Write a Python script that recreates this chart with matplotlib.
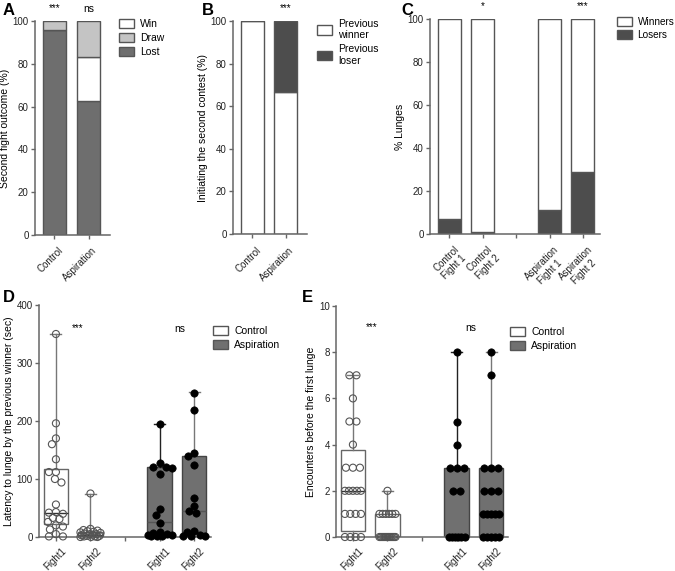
import matplotlib
matplotlib.use('Agg')
import matplotlib.pyplot as plt
import matplotlib.transforms as mtransforms
from matplotlib.patches import Patch
import numpy as np

plt.rcParams['font.family'] = ['Liberation Sans', 'DejaVu Sans']
plt.rcParams['font.size'] = 7

# ---------------- data ----------------
# A: second fight outcome (%)
ab_groups = ['Control', 'Aspiration']
a_lost = [96, 62.5]
a_win = [0, 20.8]
a_draw = [4, 16.7]
a_sig = ['***', 'ns']

# B: who initiates the second contest (%)
b_winner = [100, 66.7]
b_loser = [0, 33.3]
b_sig = ['', '***']

# C: % lunges
c_labels = ['Control\nFight 1', 'Control\nFight 2', '', 'Aspiration\nFight 1', 'Aspiration\nFight 2']
c_losers = [7, 1, 11, 29]
c_winners = [93, 99, 89, 71]
c_sig = ['', '*', '', '***']

# D: latency to lunge (sec)
de_labels = ['Fight1', 'Fight2', '', 'Fight1', 'Fight2']
d_ctrl_f1 = [350, 196, 170, 160, 134, 112, 112, 100, 94, 56, 43, 42, 40, 33, 31, 26, 20, 18, 13, 5, 1, 1]
d_ctrl_f2 = [75, 14, 12, 11, 10, 9, 8, 7, 6, 5, 5, 4, 3, 2, 2, 1, 1, 0, 0, 0]
d_asp_f1 = [194, 127, 121, 120, 119, 109, 48, 38, 25, 9, 7, 5, 4, 3, 2, 1, 1]
d_asp_f2 = [249, 219, 145, 140, 125, 67, 54, 45, 41, 10, 9, 3, 2, 1, 1]
# box stats: (min, q1, median, q3, max)
d_box = [(0, 22, 42, 118, 350), (0, 1, 4, 9, 75), (0, 3, 26, 121, 195), (0, 7, 45, 140, 250)]
d_sig = ['***', 'ns']

# E: encounters before first lunge
e_ctrl_f1 = [7, 7, 6, 5, 5, 4, 3, 3, 3, 2, 2, 2, 2, 2, 1, 1, 1, 1, 0, 0, 0, 0]
e_ctrl_f2 = [2, 1, 1, 1, 1, 1, 1, 0, 0, 0, 0, 0, 0, 0, 0, 0, 0, 0, 0, 0]
e_asp_f1 = [8, 5, 4, 3, 3, 3, 2, 2, 0, 0, 0, 0, 0, 0]
e_asp_f2 = [8, 7, 3, 3, 3, 2, 2, 2, 1, 1, 1, 1, 1, 0, 0, 0, 0, 0]
e_box = [(0, 0.25, 2, 3.75, 7), (0, 0, 0, 1, 2), (0, 0, 0, 3, 8), (0, 0, 1, 3, 8)]
e_sig = ['***', 'ns']

# ---------------- style ----------------
DARK = '#6e6e6e'
DARKER = '#4d4d4d'
LIGHT = '#c4c4c4'
EDGE = '#555555'
AX = '#666666'

fig = plt.figure(figsize=(6.75, 5.71), dpi=100)
W, H = 675., 571.


def add_ax(x0, x1, ytop, ybot):
    ax = fig.add_axes([x0 / W, 1 - ybot / H, (x1 - x0) / W, (ybot - ytop) / H])
    for s in ['top', 'right']:
        ax.spines[s].set_visible(False)
    for s in ['left', 'bottom']:
        ax.spines[s].set_color(AX)
        ax.spines[s].set_linewidth(1.1)
    ax.tick_params(colors='#222222', length=3, width=1, color=AX, labelsize=7, pad=1.5)
    return ax


def rot_labels(ax, labels, dx, dy):
    # dx, dy: extra shift in pixels (right, down)
    ax.set_xticklabels(labels, rotation=45, ha='right', va='center', rotation_mode='anchor',
                       multialignment='center')
    ax.tick_params(axis='x', pad=5)
    off = mtransforms.ScaledTranslation(dx / 100., -dy / 100., fig.dpi_scale_trans)
    for t in ax.get_xticklabels():
        t.set_transform(t.get_transform() + off)


def legend(ax, handles, labels, x, y, fs=7.5):
    ax.legend(handles, labels, loc='upper left', bbox_to_anchor=(x, y), frameon=False,
              fontsize=fs, handlelength=1.45, handleheight=1.0, handletextpad=0.6,
              labelspacing=0.35, borderaxespad=0, borderpad=0)


def swarm(vals, center, ypx, rows, d=7.0, lim=10.0, xpx=34.5):
    vals = np.asarray(vals, float)
    xs = np.zeros(len(vals))
    if rows:
        for v in np.unique(vals):
            idx = np.where(vals == v)[0]
            n = len(idx)
            step = d if n == 1 else min(d, (2 * lim) / (n - 1))
            for i, k in enumerate(idx):
                xs[k] = center + (i - (n - 1) / 2) * step / xpx
        return xs
    cands = np.arange(-lim, lim + 0.01, 0.5)
    cands = cands[np.argsort(np.abs(cands), kind='stable')]
    placed = []
    for k in np.argsort(-vals):
        y = vals[k] * ypx
        best, bestd = 0, -1
        for c in cands:
            md = min([np.hypot(c - px, y - py) for px, py in placed] + [1e9])
            if md >= d:
                best = c
                break
            if md > bestd:
                best, bestd = c, md
        placed.append((best, y))
        xs[k] = center + best / xpx
    return xs


# ---------------- A ----------------
axA = add_ax(35, 110, 21, 235)
xa = np.arange(2)
bw = 0.68
axA.bar(xa, a_lost, bw, color=DARK, edgecolor=EDGE, lw=1)
axA.bar(xa, a_win, bw, bottom=a_lost, color='white', edgecolor=EDGE, lw=1)
axA.bar(xa, a_draw, bw, bottom=np.add(a_lost, a_win), color=LIGHT, edgecolor=EDGE, lw=1)
axA.set_xlim(-0.57, 1.63)
axA.set_ylim(0, 100)
axA.set_yticks(range(0, 101, 20))
axA.set_xticks(xa)
rot_labels(axA, ab_groups, 7, 3)
axA.set_ylabel('Second fight outcome (%)', fontsize=7.5, labelpad=2)
for i, s in enumerate(a_sig):
    axA.text(xa[i], 103.5, s, ha='center', va='bottom', fontsize=7.5 if s == 'ns' else 7, clip_on=False)
legend(axA, [Patch(fc='white', ec=EDGE), Patch(fc=LIGHT, ec=EDGE), Patch(fc=DARK, ec=EDGE)],
       ['Win', 'Draw', 'Lost'], 1.12, 1.01)

# ---------------- B ----------------
axB = add_ax(233, 307, 21, 234)
axB.bar(xa, b_winner, bw, color='white', edgecolor=EDGE, lw=1)
axB.bar(xa, b_loser, bw, bottom=b_winner, color=DARKER, edgecolor=EDGE, lw=1)
axB.set_xlim(-0.59, 1.65)
axB.set_ylim(0, 100)
axB.set_yticks(range(0, 101, 20))
axB.set_xticks(xa)
rot_labels(axB, ab_groups, 7, 4)
axB.set_ylabel('Initiating the second contest (%)', fontsize=7.5, labelpad=2)
for i, s in enumerate(b_sig):
    axB.text(xa[i], 103.5, s, ha='center', va='bottom', fontsize=7, clip_on=False)
legend(axB, [Patch(fc='white', ec=EDGE), Patch(fc=DARKER, ec=EDGE)],
       ['Previous\nwinner', 'Previous\nloser'], 1.13, 1.01)

# ---------------- C ----------------
axC = add_ax(430, 600, 19, 234)
xc = np.array([0, 1, 3, 4])
axC.bar(xc, c_losers, 0.69, color=DARKER, edgecolor=EDGE, lw=1)
axC.bar(xc, c_winners, 0.69, bottom=c_losers, color='white', edgecolor=EDGE, lw=1)
axC.set_xlim(-0.58, 4.51)
axC.set_ylim(0, 100)
axC.set_yticks(range(0, 101, 20))
axC.set_xticks(range(5))
rot_labels(axC, c_labels, 12, 7)
axC.set_ylabel('% Lunges', fontsize=7.5, labelpad=2)
for i, s in enumerate(c_sig):
    axC.text(xc[i], 103.5, s, ha='center', va='bottom', fontsize=7, clip_on=False)
legend(axC, [Patch(fc='white', ec=EDGE), Patch(fc=DARKER, ec=EDGE)],
       ['Winners', 'Losers'], 1.1, 1.01, fs=7.2)


# ---------------- D / E ----------------
def box_panel(ax, stats, groups, ymax, ypx, rows, lims):
    xs = [0, 1, 3, 4]
    bstats = [dict(whislo=s[0], q1=s[1], med=s[2], q3=s[3], whishi=s[4], fliers=[]) for s in stats]
    wcol = ['#777777', '#777777', '#222222', '#777777']
    for i in range(4):
        ctrl = i < 2
        ax.bxp([bstats[i]], positions=[xs[i]], widths=0.7, capwidths=0.32, patch_artist=True,
               showfliers=False,
               boxprops=dict(facecolor='white' if ctrl else '#707070',
                             edgecolor='#666666' if ctrl else '#444444', lw=1),
               medianprops=dict(color='#333333' if ctrl else '#555555', lw=1),
               whiskerprops=dict(color=wcol[i], lw=1),
               capprops=dict(color=wcol[i], lw=1))
        px = swarm(groups[i], xs[i], ypx, rows, lim=lims[i])
        if ctrl:
            ax.scatter(px, groups[i], s=26, facecolor='none', edgecolor='#555555', lw=0.8,
                       zorder=3, clip_on=False)
        else:
            ax.scatter(px, groups[i], s=28, facecolor='black', edgecolor='black', lw=0.5,
                       zorder=3, clip_on=False)
    ax.set_xlim(-0.49, 4.49)
    ax.set_ylim(0, ymax)
    ax.set_xticks(range(5))
    rot_labels(ax, de_labels, 9, 1)


axD = add_ax(39, 211, 305, 537)
box_panel(axD, d_box, [d_ctrl_f1, d_ctrl_f2, d_asp_f1, d_asp_f2], 400, 232 / 400., False,
          [8, 10, 12, 11])
axD.set_yticks(range(0, 401, 100))
axD.set_ylabel('Latency to lunge by the previous winner (sec)', fontsize=7.5, labelpad=2)
axD.text(0.64, 360, d_sig[0], ha='center', va='center', fontsize=7)
axD.text(3.6, 358, d_sig[1], ha='center', va='center', fontsize=7.5)
legend(axD, [Patch(fc='white', ec=EDGE), Patch(fc='#707070', ec=EDGE)],
       ['Control', 'Aspiration'], 1.01, 0.91)

axE = add_ax(336, 508, 306, 537)
box_panel(axE, e_box, [e_ctrl_f1, e_ctrl_f2, e_asp_f1, e_asp_f2], 10, 231 / 10., True,
          [8, 8, 8, 8])
axE.set_yticks(range(0, 11, 2))
axE.set_ylabel('Encounters before the first lunge', fontsize=7.5, labelpad=2)
axE.text(0.55, 9.1, e_sig[0], ha='center', va='center', fontsize=7)
axE.text(3.42, 9.05, e_sig[1], ha='center', va='center', fontsize=7.5)
legend(axE, [Patch(fc='white', ec=EDGE), Patch(fc='#707070', ec=EDGE)],
       ['Control', 'Aspiration'], 1.01, 0.91)

# panel letters
for lab, (x, y) in zip('ABCDE', [(3, 3), (202, 3), (401, 3), (3, 290), (302, 290)]):
    fig.text(x / W, 1 - y / H, lab, fontsize=12, fontweight='bold', va='top', ha='left')

fig.savefig('out.png', dpi=100)
